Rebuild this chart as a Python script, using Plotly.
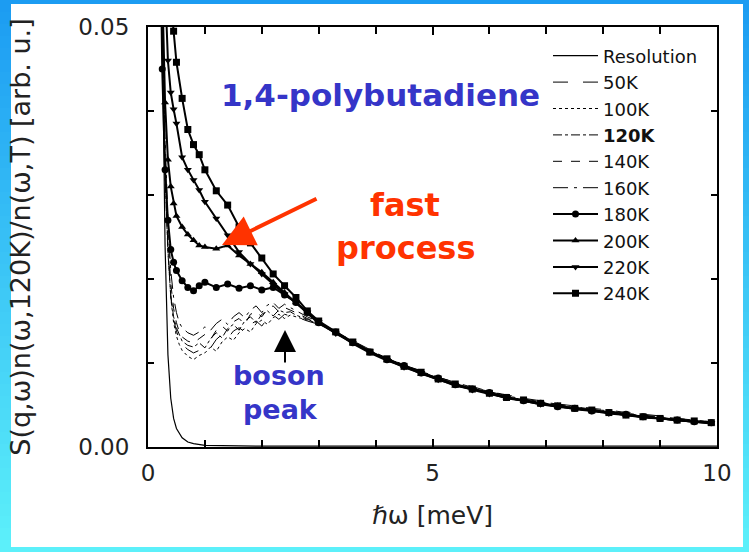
import plotly.graph_objects as go

# ---------------- data ----------------
E_res = [0.1, 0.15, 0.2, 0.25, 0.3, 0.35, 0.4, 0.45, 0.5, 0.6, 0.7, 0.8, 1.0, 1.5,
         2.0, 3.0, 4.0, 5.0, 6.0, 7.0, 8.0, 9.0, 10.0]
S_res = [0.2, 0.15, 0.1, 0.05, 0.024, 0.011, 0.0058, 0.0034, 0.0022, 0.0011, 0.0006,
         0.0004, 0.0002, 0.00015, 0.0001, 0.0001, 0.0001, 0.0001, 0.0001, 0.0001,
         0.0001, 0.0001, 0.0001]

E_thin = [0.15, 0.2, 0.25, 0.3, 0.35, 0.4, 0.45, 0.5, 0.55, 0.6, 0.7, 0.8, 0.9, 1.0,
          1.1, 1.2, 1.3, 1.4, 1.5, 1.6, 1.7, 1.8, 1.9, 2.0, 2.1, 2.2, 2.3, 2.4, 2.5,
          2.6, 2.8, 3.0, 3.3, 3.6, 3.9, 4.2, 4.5, 4.8, 5.1, 5.4, 5.7, 6.0, 6.3, 6.6,
          6.9, 7.2, 7.5, 7.8, 8.1, 8.4, 8.7, 9.0, 9.3, 9.6, 9.9]

S_50K = [0.09, 0.07, 0.05, 0.034, 0.024, 0.018, 0.0152, 0.0138, 0.0128, 0.0122, 0.0116,
         0.0112, 0.0115, 0.0121, 0.0118, 0.0128, 0.0134, 0.0129, 0.0138, 0.0142, 0.0137,
         0.0146, 0.0150, 0.0144, 0.0153, 0.0157, 0.0152, 0.0158, 0.0156, 0.0155, 0.0150,
         0.0146,
         0.0137, 0.0126, 0.0116, 0.0106, 0.0097, 0.0091, 0.0083, 0.0077, 0.0072, 0.0066,
         0.0062, 0.0058, 0.0055, 0.0051, 0.0049, 0.0046, 0.0044, 0.0041, 0.0039, 0.0037,
         0.0034, 0.0032, 0.0030]
S_100K = [0.088, 0.068, 0.048, 0.033, 0.0235, 0.0178, 0.0148, 0.0132, 0.0122, 0.0115,
          0.0108, 0.0104, 0.0109, 0.0112, 0.0119, 0.0114, 0.0125, 0.0131, 0.0127, 0.0136,
          0.0141, 0.0137, 0.0147, 0.0151, 0.0146, 0.0154, 0.0158, 0.0153, 0.0157, 0.0155,
          0.0151, 0.0147,
          0.0135, 0.0124, 0.0113, 0.0104, 0.0096, 0.0088, 0.0081, 0.0074, 0.0069, 0.0064,
          0.0059, 0.0055, 0.0052, 0.0049, 0.0046, 0.0043, 0.0041, 0.0038, 0.0036, 0.0034,
          0.0032, 0.0031, 0.0029]
S_120K = [0.087, 0.066, 0.047, 0.032, 0.0232, 0.0180, 0.0155, 0.0142, 0.0133, 0.0126,
          0.0121, 0.0119, 0.0124, 0.0118, 0.0129, 0.0136, 0.0130, 0.0141, 0.0146, 0.0139,
          0.0150, 0.0155, 0.0148, 0.0158, 0.0162, 0.0156, 0.0163, 0.0160, 0.0161, 0.0157,
          0.0152, 0.0147,
          0.0136, 0.0125, 0.0114, 0.0105, 0.0097, 0.0089, 0.0082, 0.0075, 0.0070, 0.0065,
          0.0060, 0.0056, 0.0053, 0.0050, 0.0047, 0.0044, 0.0042, 0.0039, 0.0037, 0.0035,
          0.0033, 0.0031, 0.0030]
S_140K = [0.09, 0.07, 0.05, 0.035, 0.0255, 0.0195, 0.0165, 0.0148, 0.0137, 0.0131,
          0.0126, 0.0124, 0.0129, 0.0134, 0.0128, 0.0139, 0.0144, 0.0138, 0.0149, 0.0153,
          0.0146, 0.0158, 0.0161, 0.0155, 0.0164, 0.0168, 0.0161, 0.0166, 0.0163, 0.0160,
          0.0153, 0.0148,
          0.0136, 0.0125, 0.0115, 0.0105, 0.0096, 0.0089, 0.0082, 0.0076, 0.0070, 0.0065,
          0.0061, 0.0057, 0.0053, 0.0050, 0.0047, 0.0045, 0.0042, 0.0040, 0.0037, 0.0035,
          0.0033, 0.0031, 0.0030]
S_160K = [0.092, 0.072, 0.052, 0.037, 0.027, 0.021, 0.0178, 0.0160, 0.0148, 0.0142,
          0.0136, 0.0133, 0.0137, 0.0143, 0.0139, 0.0147, 0.0152, 0.0146, 0.0155, 0.0160,
          0.0154, 0.0163, 0.0168, 0.0160, 0.0169, 0.0172, 0.0165, 0.0170, 0.0166, 0.0162,
          0.0155, 0.0149,
          0.0137, 0.0126, 0.0115, 0.0106, 0.0098, 0.0090, 0.0083, 0.0077, 0.0071, 0.0066,
          0.0061, 0.0057, 0.0054, 0.0051, 0.0048, 0.0045, 0.0043, 0.0040, 0.0038, 0.0036,
          0.0034, 0.0032, 0.0030]

E_thick = [0.2, 0.25, 0.3, 0.35, 0.4, 0.45, 0.5, 0.6, 0.7, 0.8, 0.9, 1.0, 1.2, 1.4, 1.6,
           1.8, 2.0, 2.2, 2.4, 2.6, 2.8, 3.0, 3.3, 3.6, 3.9, 4.2, 4.5, 4.8, 5.1, 5.4,
           5.7, 6.0, 6.3, 6.6, 6.9, 7.2, 7.5, 7.8, 8.1, 8.4, 8.7, 9.0, 9.3, 9.6, 9.9]

S_180K = [0.070, 0.045, 0.033, 0.027, 0.0235, 0.022, 0.021, 0.0198, 0.0190, 0.0186,
          0.0192, 0.0196, 0.0190, 0.0194, 0.0189, 0.0192, 0.0187, 0.0190, 0.0181, 0.0172,
          0.0160, 0.0148,
          0.0137, 0.0124, 0.0113, 0.0104, 0.0097, 0.0088, 0.0082, 0.0074, 0.0069, 0.0065,
          0.0059, 0.0055, 0.0052, 0.0048, 0.0046, 0.0043, 0.0041, 0.0039, 0.0036, 0.0034,
          0.0032, 0.0030, 0.0029]
S_200K = [0.075, 0.055, 0.041, 0.0342, 0.031, 0.029, 0.0275, 0.0262, 0.0253, 0.0246,
          0.0240, 0.0238, 0.0236, 0.0240, 0.0228, 0.0218, 0.0208, 0.0196, 0.0184, 0.0172,
          0.0160, 0.0147,
          0.0136, 0.0123, 0.0112, 0.0103, 0.0096, 0.0087, 0.0081, 0.0073, 0.0069, 0.0064,
          0.0058, 0.0055, 0.0051, 0.0049, 0.0045, 0.0043, 0.0041, 0.0038, 0.0035, 0.0034,
          0.0032, 0.0030, 0.0028]
S_220K = [0.085, 0.068, 0.055, 0.046, 0.0422, 0.0402, 0.0385, 0.0345, 0.0330, 0.0318,
          0.0306, 0.0292, 0.0272, 0.0252, 0.0232, 0.0218, 0.0206, 0.0193, 0.0182, 0.0172,
          0.0160, 0.0149,
          0.0135, 0.0124, 0.0114, 0.0104, 0.0095, 0.0088, 0.0080, 0.0074, 0.0068, 0.0063,
          0.0059, 0.0055, 0.0051, 0.0048, 0.0046, 0.0043, 0.0040, 0.0038, 0.0036, 0.0034,
          0.0032, 0.0030, 0.0029]
S_240K = [0.090, 0.075, 0.065, 0.058, 0.053, 0.0495, 0.0458, 0.0415, 0.0378, 0.0360,
          0.0348, 0.0330, 0.0305, 0.0288, 0.0262, 0.0243, 0.0225, 0.0206, 0.0192, 0.0178,
          0.0162, 0.0150,
          0.0137, 0.0125, 0.0113, 0.0105, 0.0096, 0.0089, 0.0081, 0.0075, 0.0069, 0.0064,
          0.0059, 0.0056, 0.0052, 0.0049, 0.0046, 0.0044, 0.0041, 0.0038, 0.0036, 0.0034,
          0.0032, 0.0031, 0.0029]

x_ticks = [0, 5, 10]
x_tick_text = ["0", "5", "10"]
y_ticks = [0.0, 0.05]
y_tick_text = ["0.00", "0.05"]

# ---------------- figure ----------------
FONT = "DejaVu Sans"
fig = go.Figure()

fig.add_trace(go.Scatter(x=E_res, y=S_res, name="Resolution", mode="lines",
                         line=dict(color="black", width=1.2)))
thin = [("50K", S_50K, "longdash"), ("100K", S_100K, "dot"),
        ("<b>120K</b>", S_120K, "dashdot"), ("140K", S_140K, "dash"),
        ("160K", S_160K, "longdashdot")]
for name, ys, dash in thin:
    fig.add_trace(go.Scatter(x=E_thin, y=ys, name=name, mode="lines",
                             line=dict(color="black", width=1, dash=dash)))
thick = [("180K", S_180K, "circle"), ("200K", S_200K, "triangle-up"),
         ("220K", S_220K, "triangle-down"), ("240K", S_240K, "square")]
for name, ys, sym in thick:
    fig.add_trace(go.Scatter(x=E_thick, y=ys, name=name, mode="lines+markers",
                             line=dict(color="black", width=2),
                             marker=dict(symbol=sym, size=7, color="black")))

for i, tr in enumerate(fig.data):
    tr.legendgroup = "g%d" % i

# background gradient (decorative)
W, H = 749, 552
L, R, T, B = 148, 32, 27, 105
pw, ph = W - L - R, H - T - B
def px2paper(px, py):
    return (px - L) / pw, (H - B - py) / ph
shapes = []
n = 46
c0 = (28, 156, 242)
c1 = (92, 240, 250)
for k in range(n):
    t = k / (n - 1)
    col = "rgb(%d,%d,%d)" % tuple(round(c0[j] + (c1[j] - c0[j]) * t) for j in range(3))
    y_top = H * k / n
    y_bot = H * (k + 1) / n + 1
    x0p, y0p = px2paper(0, y_bot)
    x1p, y1p = px2paper(W, y_top)
    shapes.append(dict(type="rect", xref="paper", yref="paper", x0=x0p, x1=x1p,
                       y0=y0p, y1=y1p, fillcolor=col, line=dict(width=0), layer="below"))
wx0, wy0 = px2paper(11, 547)
wx1, wy1 = px2paper(743, 4)
shapes.append(dict(type="rect", xref="paper", yref="paper", x0=wx0, x1=wx1, y0=wy0, y1=wy1,
                   fillcolor="white", line=dict(width=0), layer="below"))

def dx(px):
    return (px - L) / pw * 10
def dy(py):
    return (H - B - py) / ph * 0.05

blue = "#3535c8"
red = "#ff3300"
annotations = [
    dict(x=dx(380), y=dy(95), text="<b>1,4-polybutadiene</b>", showarrow=False,
         font=dict(family=FONT, size=31, color=blue)),
    dict(x=dx(405), y=dy(205), text="<b>fast</b>", showarrow=False,
         font=dict(family=FONT, size=32, color=red)),
    dict(x=dx(405), y=dy(248), text="<b>process</b>", showarrow=False,
         font=dict(family=FONT, size=32, color=red)),
    dict(x=dx(279), y=dy(375), text="<b>boson</b>", showarrow=False,
         font=dict(family=FONT, size=27, color=blue)),
    dict(x=dx(280), y=dy(409), text="<b>peak</b>", showarrow=False,
         font=dict(family=FONT, size=27, color=blue)),
    dict(x=dx(222), y=dy(245), ax=96, ay=-47, text="", showarrow=True,
         arrowhead=2, arrowsize=1.6, arrowwidth=4, arrowcolor=red),
    dict(x=dx(285), y=dy(330), ax=0, ay=34, text="", showarrow=True,
         arrowhead=2, arrowsize=2.2, arrowwidth=2, arrowcolor="black"),
]

axis_common = dict(showline=True, linecolor="black", linewidth=2, mirror="ticks",
                   ticks="inside", tickcolor="black", tickwidth=1.5, showgrid=False,
                   zeroline=False, tickfont=dict(family=FONT, size=23, color="#222"))

fig.update_layout(
    width=W, height=H,
    margin=dict(l=L, r=R, t=T, b=B, autoexpand=False),
    paper_bgcolor="rgb(60,200,246)",
    plot_bgcolor="white",
    shapes=shapes,
    annotations=annotations,
    showlegend=True,
    legend=dict(x=0.703, y=0.975, xanchor="left", yanchor="top",
                bgcolor="rgba(0,0,0,0)", font=dict(family=FONT, size=18, color="#111"),
                tracegroupgap=0, itemwidth=45),
    xaxis=dict(range=[0, 10], tickvals=x_ticks, ticktext=x_tick_text, ticklen=8,
               ticklabelstandoff=4,
               minor=dict(dtick=1, ticks="inside", ticklen=7, tickcolor="black"),
               title=dict(text="ℏω [meV]", font=dict(family=FONT, size=25, color="#222"),
                          standoff=22),
               **axis_common),
    yaxis=dict(range=[0, 0.05], tickvals=y_ticks, ticktext=y_tick_text, ticklen=7,
               ticklabelstandoff=12,
               minor=dict(dtick=0.01, ticks="inside", ticklen=6, tickcolor="black"),
               title=dict(text="S(q,ω)n(ω,120K)/n(ω,T) [arb. u.]",
                          font=dict(family=FONT, size=27, color="#222"), standoff=40),
               **axis_common),
)

fig.write_html("out.html", config={"displayModeBar": False},
               post_script="document.body.style.margin='0px';document.body.style.overflow='hidden';")
